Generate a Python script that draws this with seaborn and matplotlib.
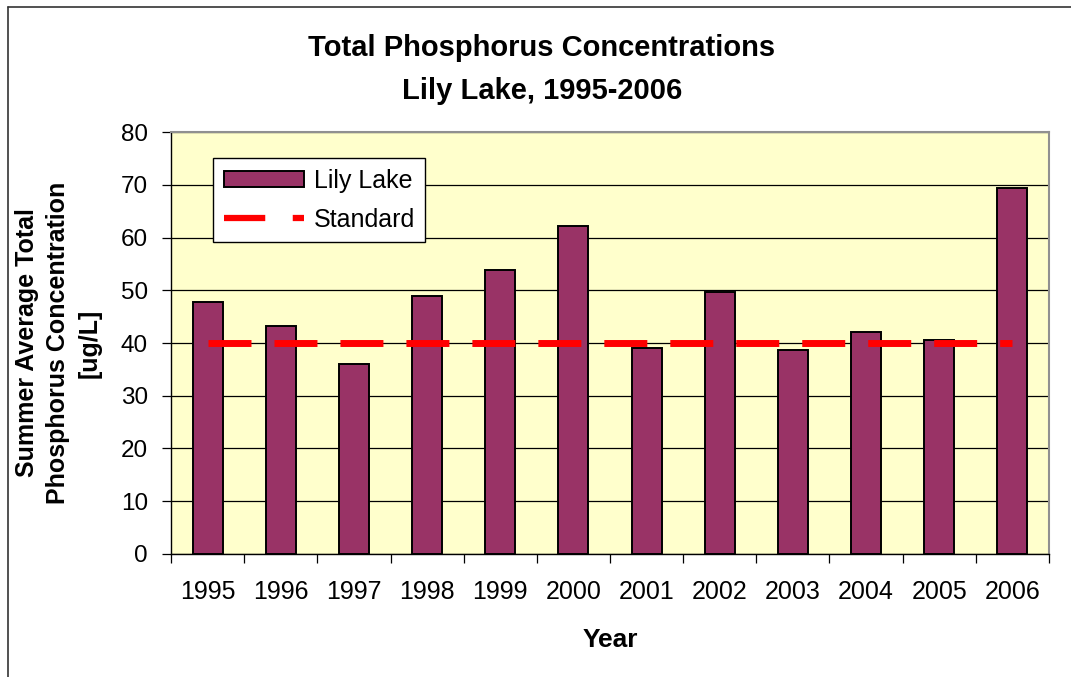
import numpy as np
import pandas as pd
import seaborn as sns
import matplotlib.pyplot as plt
from matplotlib.lines import Line2D
from matplotlib.patches import Patch
from matplotlib.ticker import FixedLocator

years = ["1995", "1996", "1997", "1998", "1999", "2000",
         "2001", "2002", "2003", "2004", "2005", "2006"]
lily_lake = [47.8, 43.2, 36.0, 48.9, 53.8, 62.1, 39.0, 49.6, 38.7, 42.1, 40.6, 69.4]
standard = [40] * len(years)
yticks = [0, 10, 20, 30, 40, 50, 60, 70, 80]

bar_color = "#993366"
plot_bg = "#ffffcc"
dash = (0, (6.19, 3.31))

df = pd.DataFrame({"Year": years, "TP": lily_lake})

sns.set_theme(style="white")
plt.rcParams["font.family"] = ["Liberation Sans", "DejaVu Sans"]
plt.rcParams.update({"text.color": "black", "axes.labelcolor": "black",
                     "xtick.color": "black", "ytick.color": "black"})

fig = plt.figure(figsize=(10.71, 6.77), dpi=100)
ax = fig.add_axes([0.1597, 0.1817, 0.8197, 0.6233])
ax.set_facecolor(plot_bg)

sns.barplot(data=df, x="Year", y="TP", color=bar_color, saturation=1,
            width=0.41, edgecolor="black", linewidth=1.4, ax=ax, zorder=3)
ax.plot(np.arange(len(years)), standard, color="red", linewidth=5,
        linestyle=dash, dash_capstyle="butt", zorder=4)

ax.set_xlim(-0.5, len(years) - 0.5)
ax.set_ylim(0, 80)
ax.set_yticks(yticks)
ax.yaxis.grid(True, color="black", linewidth=0.9, zorder=0)
ax.set_axisbelow(True)

ax.xaxis.set_minor_locator(FixedLocator(np.arange(-0.5, len(years), 1)))
ax.tick_params(axis="x", which="major", length=0, pad=19, labelsize=18)
ax.tick_params(axis="x", which="minor", length=6.5, width=0.9, color="black",
               bottom=True)
ax.tick_params(axis="y", which="major", length=6.5, width=0.9, color="black",
               left=True, labelsize=17.5, pad=10)

for side in ["left", "bottom"]:
    ax.spines[side].set_color("black")
    ax.spines[side].set_linewidth(1.0)
for side in ["top", "right"]:
    ax.spines[side].set_color("#909090")
    ax.spines[side].set_linewidth(1.5)

ax.set_xlabel("Year", fontsize=19, fontweight="bold", labelpad=17)
ax.set_ylabel("Summer Average Total\nPhosphorus Concentration\n[ug/L]",
              fontsize=18, fontweight="bold", labelpad=14, linespacing=1.38)

fig.text(0.506, 0.897, "Total Phosphorus Concentrations\nLily Lake, 1995-2006",
         ha="center", va="center", fontsize=21, fontweight="bold",
         linespacing=1.68)

handles = [Patch(facecolor=bar_color, edgecolor="black", linewidth=1.4),
           Line2D([0], [0], color="red", linewidth=4.5,
                  linestyle=(0, (6.6, 4.4)), dash_capstyle="butt")]
leg = ax.legend(handles, ["Lily Lake", "Standard"], loc="upper left",
                bbox_to_anchor=(0.0478, 0.9377), fontsize=18, frameon=True,
                fancybox=False, edgecolor="black", facecolor="white",
                framealpha=1, handlelength=3.2, handleheight=0.6,
                borderpad=0.42, labelspacing=0.6, handletextpad=0.4,
                borderaxespad=0)
leg.get_frame().set_linewidth(1.0)

# outer chart border
fig.add_artist(Line2D([8 / 1071, 8 / 1071], [0, 1 - 7 / 677],
                      transform=fig.transFigure, color="#333333", linewidth=1.2))
fig.add_artist(Line2D([8 / 1071, 1], [1 - 7 / 677, 1 - 7 / 677],
                      transform=fig.transFigure, color="#333333", linewidth=1.2))

fig.savefig("out.png", dpi=100)
